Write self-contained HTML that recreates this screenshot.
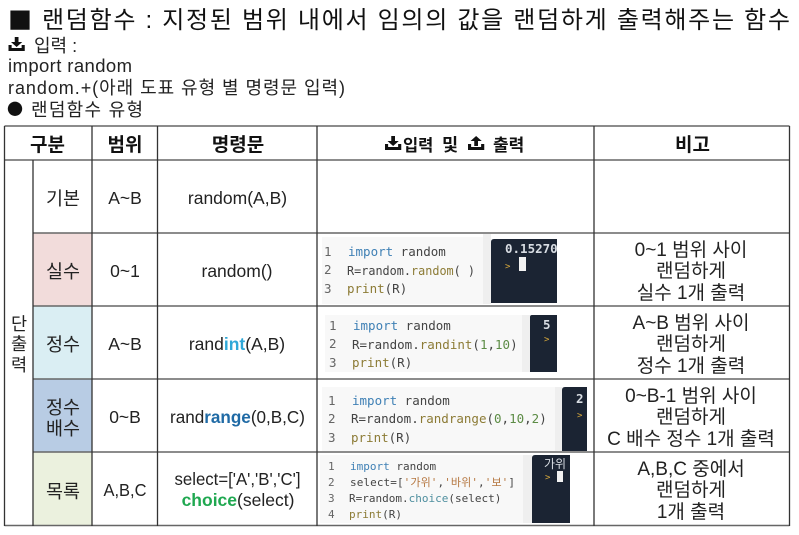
<!DOCTYPE html>
<html lang="ko"><head><meta charset="utf-8"><style>
html,body{margin:0;padding:0;background:#fff}
svg{display:block}
text{font-family:"Liberation Sans","Noto Sans CJK KR",sans-serif;fill:#222}
.k{font-family:"Noto Sans CJK KR","Liberation Sans",sans-serif}
.c{font-size:17.5px;text-anchor:middle}
.b{font-size:18.500px;text-anchor:middle}
.t{font-size:19px;text-anchor:middle}
.h{font-size:19px;font-weight:700;text-anchor:middle;fill:#111}
.m{font-family:"DejaVu Sans Mono","Noto Sans CJK KR",monospace;font-size:12.5px;fill:#444}
.s{font-size:11px}
.n{fill:#666}.i{fill:#3f80b5}.f{fill:#8c7b35}.g{fill:#5c8c45}.q{fill:#b5763f}.o{fill:#4f8f9f}
</style></head><body>
<svg width="799" height="535" viewBox="0 0 799 535" xmlns="http://www.w3.org/2000/svg">
<defs>
<g id="d"><path d="M5 0h3v5h3l-4.500 5l-4.500-5h3z" fill="#111"/><path d="M0 8h2.500v3h8v-3h2.500v6h-13z" fill="#111"/></g>
<g id="u"><path d="M6.500 0l4.500 5h-3v5h-3v-5h-3z" fill="#111"/><path d="M0 8h2.500v3h8v-3h2.500v6h-13z" fill="#111"/></g>
</defs>
<rect width="799" height="535" fill="#fff"/>

<!-- top text -->
<text class="k" x="8" y="29" font-size="24" style="fill:#111">■</text>
<text x="42" y="28" font-size="24" textLength="748" lengthAdjust="spacing" style="fill:#111">랜덤함수 : 지정된 범위 내에서 임의의 값을 랜덤하게 출력해주는 함수</text>
<use href="#d" transform="translate(8.500 37) scale(1.250 1)"/>
<text x="34" y="52" font-size="18">입력 :</text>
<text x="8" y="72" font-size="18.500" textLength="124" lengthAdjust="spacing">import random</text>
<text x="8" y="94" font-size="18" textLength="337" lengthAdjust="spacing">random.+(아래 도표 유형 별 명령문 입력)</text>
<text class="k" x="7" y="115" font-size="16" style="fill:#111">●</text>
<text x="31" y="116" font-size="18" textLength="112" lengthAdjust="spacing">랜덤함수 유형</text>

<!-- cell fills -->
<rect x="33" y="233" width="59" height="73" fill="#f2dcdb"/>
<rect x="33" y="306" width="59" height="73" fill="#daeef3"/>
<rect x="33" y="379" width="59" height="73" fill="#b8cce4"/>
<rect x="33" y="452" width="59" height="73" fill="#ebf1de"/>

<!-- code panels -->
<rect x="322" y="237" width="161" height="67" fill="#f8f8f8"/>
<rect x="483" y="234" width="8" height="70" fill="#efefef"/>
<path d="M491 303V242q0-3 3-3H557V303z" fill="#1b2433"/>
<rect x="325" y="315" width="197" height="57" fill="#f8f8f8"/>
<rect x="522" y="315" width="8" height="57" fill="#efefef"/>
<path d="M530 372V317q0-2 2-2H557V372z" fill="#1b2433"/>
<rect x="322" y="387" width="233" height="64" fill="#f8f8f8"/>
<rect x="555" y="387" width="7" height="64" fill="#efefef"/>
<path d="M562 451V390q0-3 3-3H587V451z" fill="#1b2433"/>
<rect x="320" y="455" width="203" height="68" fill="#f8f8f8"/>
<rect x="523" y="455" width="9" height="68" fill="#efefef"/>
<path d="M532 523V458q0-3 3-3H570V523z" fill="#1b2433"/>

<!-- grid -->
<g fill="none">
<path d="M4.500 126H789.500M4.500 160H789.500M33 233H789.500M33 306H789.500M33 379H789.500M33 452H789.500M4.500 525.500H789.500" stroke="#666" stroke-width="1.500"/>
<path d="M4.500 126V526M33 160V526M92 126V526M157.500 126V526M317 126V526M594 126V526M789.500 126V526" stroke="#333" stroke-width="1.300"/>
</g>

<!-- header -->
<text x="47.500" y="151" class="h">구분</text>
<text x="125" y="151" class="h">범위</text>
<text x="238" y="151" class="h">명령문</text>
<use href="#d" transform="translate(385 136) scale(1.250 1)"/>
<text x="403" y="151" font-size="16.500" font-weight="700" style="fill:#111">입력</text>
<text x="442" y="151" font-size="17.500" font-weight="700" style="fill:#111">및</text>
<use href="#u" transform="translate(468 136) scale(1.250 1)"/>
<text x="493" y="151" font-size="17" font-weight="700" style="fill:#111">출력</text>
<text x="692.500" y="151" class="h">비고</text>

<!-- left merged -->
<text x="19" y="330" class="c">단</text>
<text x="19" y="350" class="c">출</text>
<text x="19" y="371" class="c">력</text>

<!-- column 2 -->
<text x="63" y="205" class="b">기본</text>
<text x="63" y="278" class="b">실수</text>
<text x="63" y="351" class="b">정수</text>
<text x="63" y="414" class="b">정수</text>
<text x="63" y="435" class="b">배수</text>
<text x="63" y="498" class="b">목록</text>

<!-- column 3 -->
<text x="125" y="204" class="c">A~B</text>
<text x="125" y="277" class="c">0~1</text>
<text x="125" y="350" class="c">A~B</text>
<text x="125" y="423" class="c">0~B</text>
<text x="125" y="496" class="c" textLength="43" lengthAdjust="spacingAndGlyphs">A,B,C</text>

<!-- column 4 -->
<text x="237.500" y="204" class="c">random(A,B)</text>
<text x="237" y="277" class="c">random()</text>
<text x="237" y="350" class="c">rand<tspan font-weight="700" style="fill:#2fa8d8">int</tspan>(A,B)</text>
<text x="237.500" y="423" class="c" textLength="135" lengthAdjust="spacingAndGlyphs">rand<tspan font-weight="700" style="fill:#1f6aa5">range</tspan>(0,B,C)</text>
<text x="237.500" y="485" class="c" textLength="126" lengthAdjust="spacingAndGlyphs">select=['A','B','C']</text>
<text x="238" y="506" class="c"><tspan font-weight="700" style="fill:#1fa850">choice</tspan>(select)</text>

<!-- notes -->
<text x="691" y="256" class="t">0~1 범위 사이</text>
<text x="691" y="277" class="t">랜덤하게</text>
<text x="691" y="299" class="t">실수 1개 출력</text>
<text x="691" y="329" class="t">A~B 범위 사이</text>
<text x="691" y="350" class="t">랜덤하게</text>
<text x="691" y="372" class="t">정수 1개 출력</text>
<text x="691" y="402" class="t">0~B-1 범위 사이</text>
<text x="691" y="423" class="t">랜덤하게</text>
<text x="691" y="445" class="t">C 배수 정수 1개 출력</text>
<text x="691" y="475" class="t">A,B,C 중에서</text>
<text x="691" y="496" class="t">랜덤하게</text>
<text x="691" y="518" class="t">1개 출력</text>

<!-- code 1 -->
<g>
<text class="m n" x="324" y="256">1</text><text class="m n" x="324" y="274">2</text><text class="m n" x="324" y="293">3</text>
<text class="m" x="348" y="256"><tspan class="i">import</tspan> random</text>
<text class="m" x="347" y="275" textLength="128" lengthAdjust="spacingAndGlyphs">R=random.<tspan class="f">random</tspan>( )</text>
<text class="m" x="347" y="293"><tspan class="f">print</tspan>(R)</text>
<text class="m" x="505" y="253" style="fill:#d8dde3;font-weight:700">0.15270</text>
<text class="m" x="505" y="269" style="fill:#d8a93c;font-size:9px">&gt;</text>
<rect x="519" y="257" width="7" height="14" fill="#f2f2f2"/>
</g>
<!-- code 2 -->
<g>
<text class="m n" x="329" y="330">1</text><text class="m n" x="329" y="348">2</text><text class="m n" x="329" y="367">3</text>
<text class="m" x="353" y="330"><tspan class="i">import</tspan> random</text>
<text class="m" x="352" y="349">R=random.<tspan class="f">randint</tspan>(<tspan class="g">1</tspan>,<tspan class="g">10</tspan>)</text>
<text class="m" x="352" y="367"><tspan class="f">print</tspan>(R)</text>
<text class="m" x="543" y="329" style="fill:#d8dde3;font-weight:700">5</text>
<text class="m" x="544" y="342" style="fill:#d8a93c;font-size:9px">&gt;</text>
</g>
<!-- code 3 -->
<g>
<text class="m n" x="328" y="405">1</text><text class="m n" x="328" y="423">2</text><text class="m n" x="328" y="442">3</text>
<text class="m" x="352" y="405"><tspan class="i">import</tspan> random</text>
<text class="m" x="351" y="423">R=random.<tspan class="f">randrange</tspan>(<tspan class="g">0</tspan>,<tspan class="g">10</tspan>,<tspan class="g">2</tspan>)</text>
<text class="m" x="351" y="442"><tspan class="f">print</tspan>(R)</text>
<text class="m" x="576" y="403" style="fill:#d8dde3;font-weight:700">2</text>
<text class="m" x="577" y="418" style="fill:#d8a93c;font-size:9px">&gt;</text>
</g>
<!-- code 4 -->
<g>
<text class="m s n" x="328" y="470">1</text><text class="m s n" x="328" y="486">2</text><text class="m s n" x="328" y="502">3</text><text class="m s n" x="328" y="518">4</text>
<text class="m s" x="350" y="470"><tspan class="i">import</tspan> random</text>
<text class="m s" x="350" y="486" textLength="165" lengthAdjust="spacing">select=[<tspan class="q">'가위'</tspan>,<tspan class="q">'바위'</tspan>,<tspan class="q">'보'</tspan>]</text>
<text class="m s" x="349" y="502">R=random.<tspan class="o">choice</tspan>(select)</text>
<text class="m s" x="349" y="518"><tspan class="f">print</tspan>(R)</text>
<text x="544" y="468" font-size="12" style="fill:#d8dde3">가위</text>
<text class="m" x="545" y="480" style="fill:#d8a93c;font-size:9px">&gt;</text>
<rect x="557" y="471" width="6" height="11" fill="#f2f2f2"/>
</g>
</svg>
</body></html>
